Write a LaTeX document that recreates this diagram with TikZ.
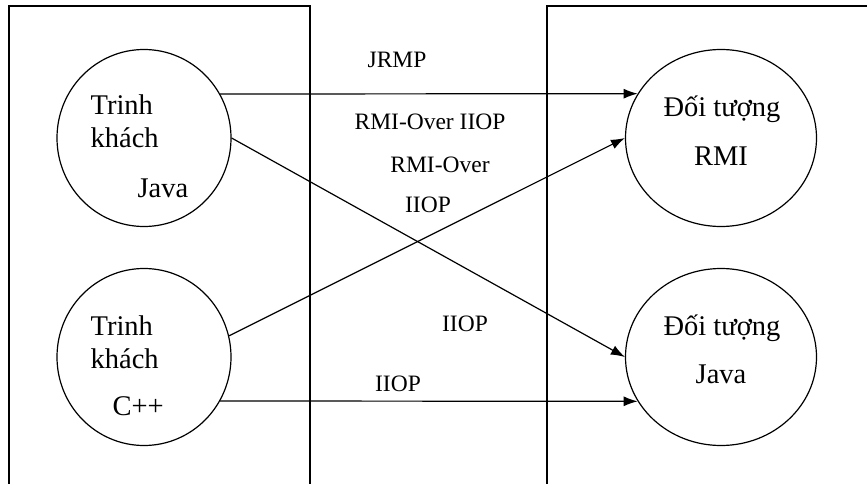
\documentclass[tikz,border=0pt]{standalone}
\usepackage{fontspec}
\setmainfont{Liberation Serif}
\usetikzlibrary{arrows.meta,shapes.geometric}

\begin{document}
\begin{tikzpicture}[x=1pt, y=-1pt, >={Latex[length=14pt,width=10pt]}, line width=1.2pt, node distance=219pt]
\tikzstyle{client}=[ellipse, draw=black, minimum width=174pt, minimum height=177pt, inner sep=0pt]
\tikzstyle{server}=[ellipse, draw=black, minimum width=191pt, minimum height=177pt, inner sep=0pt]
\tikzstyle{circtext}=[inner sep=0pt, font=\fontsize{28.5}{34}\selectfont]
\tikzstyle{proto}=[anchor=base, inner sep=0pt, font=\fontsize{23.5}{28}\selectfont]

\useasboundingbox (0,0) rectangle (867,484);

% the two sides
\draw (9,484) -- (9,6) -- (310,6) -- (310,484);
\draw (547,484) -- (547,6) -- (867,6);

\node[client] (jc) at (144,138) {};
\node[client] (cc) [below of=jc] {};
\node[server] (ro) [right of=jc, node distance=577pt] {};
\node[server] (jo) [below of=ro] {};

% texts in the circles
\node[circtext, anchor=base west] (jc1) at (90,115) {Trinh};
\node[circtext, anchor=base west] (jc2) at (90,147) {khách};
\node[circtext, anchor=base west] (jc3) at (137,197) {Java};
\node[circtext, anchor=base west] (cc1) at (90,335) {Trinh};
\node[circtext, anchor=base west] (cc2) at (90,368) {khách};
\node[circtext, anchor=base west] (cc3) at (112,415) {C++};
\node[circtext, anchor=base] (ro1) at (722,117) {Đối tượng};
\node[circtext, anchor=base] (ro2) at (721,165) {RMI};
\node[circtext, anchor=base] (jo1) at (722,335) {Đối tượng};
\node[circtext, anchor=base] (jo2) at (721,383) {Java};

% protocols
\node[proto] (jrmp) at (397,68) {JRMP};
\node[proto] (rmi1) at (430,130) {RMI-Over IIOP};
\node[proto] (rmi2) at (440,172) {RMI-Over};
\node[proto] (iiop1) at (428,212) {IIOP};
\node[proto] (iiop2) at (465,331) {IIOP};
\node[proto] (iiop3) at (398,391) {IIOP};

\path[->]
(jc.30) edge (ro.152)
(jc.east) edge (jo.west)
(cc.14) edge (ro.west)
(cc.-30) edge (jo.-152);
\end{tikzpicture}
\end{document}
